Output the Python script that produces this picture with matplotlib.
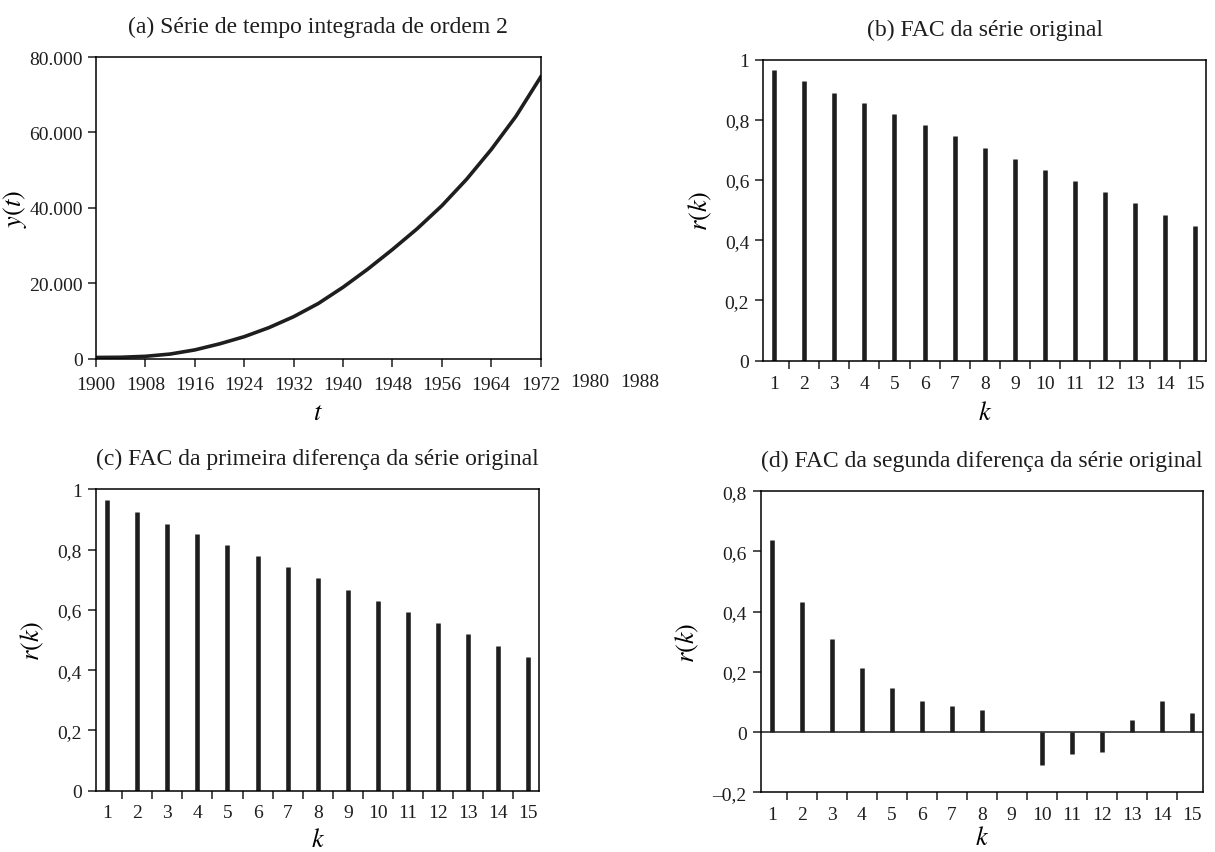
import matplotlib
matplotlib.use("Agg")
import matplotlib.pyplot as plt
import numpy as np

plt.rcParams["font.family"] = ["Liberation Serif", "DejaVu Serif"]
plt.rcParams["mathtext.fontset"] = "stix"
plt.rcParams["axes.linewidth"] = 1.1
plt.rcParams["text.color"] = "#1e1e1e"
plt.rcParams["xtick.color"] = "#1e1e1e"
plt.rcParams["ytick.color"] = "#1e1e1e"

# (a) integrated series, sampled every 4 years
years = [1900, 1904, 1908, 1912, 1916, 1920, 1924, 1928, 1932, 1936,
         1940, 1944, 1948, 1952, 1956, 1960, 1964, 1968, 1972]
y_t = [400, 450, 700, 1300, 2400, 4000, 5900, 8300, 11200, 14700,
       19000, 23800, 29000, 34500, 40600, 47600, 55500, 64300, 74700]
year_ticks = [1900, 1908, 1916, 1924, 1932, 1940, 1948, 1956, 1964, 1972, 1980, 1988]

# autocorrelations, lags 1..15
lags = list(range(1, 16))
acf_orig = [0.965, 0.930, 0.890, 0.856, 0.818, 0.784, 0.746, 0.707,
            0.671, 0.633, 0.598, 0.559, 0.523, 0.484, 0.447]
acf_diff1 = [0.965, 0.924, 0.885, 0.852, 0.815, 0.779, 0.741, 0.705,
             0.667, 0.631, 0.594, 0.556, 0.520, 0.481, 0.445]
acf_diff2 = [0.639, 0.433, 0.309, 0.214, 0.146, 0.104, 0.087, 0.074,
             0.0, -0.108, -0.073, -0.067, 0.040, 0.104, 0.062]

INK = "#1e1e1e"
TICK_FS = 14
TITLE_FS = 17
LABEL_FS = 19


def fmt_dec(v):
    s = f"{v:.1f}".replace(".", ",")
    if s.endswith(",0"):
        s = s[:-2]
    return s.replace("-", "\u2013")


def acf_panel(ax, values, title, ylim, yticks, kpad=7):
    ax.vlines(lags, 0, values, colors=INK, linewidth=3.3)
    ax.set_xlim(0.63, 15.37)
    ax.set_ylim(*ylim)
    ax.set_xticks(lags)
    ax.set_xticklabels([str(k) for k in lags], fontsize=TICK_FS)
    ax.set_xticks(np.arange(1.5, 15, 1.0), minor=True)
    ax.tick_params(axis="x", which="major", length=0, pad=10)
    ax.tick_params(axis="x", which="minor", length=6, width=1.1, direction="out")
    ax.set_yticks(yticks)
    ax.set_yticklabels([fmt_dec(v) for v in yticks], fontsize=TICK_FS)
    ax.tick_params(axis="y", length=6, width=1.1, direction="out", pad=4)
    ax.set_title(title, fontsize=TITLE_FS, pad=18)
    ax.set_xlabel("$k$", fontsize=LABEL_FS, labelpad=kpad)
    ax.set_ylabel("$r(k)$", fontsize=LABEL_FS, labelpad=8)


fig = plt.figure(figsize=(12.15, 8.53), dpi=100)

ax_a = fig.add_axes([0.079, 0.578, 0.366, 0.354])
ax_b = fig.add_axes([0.628, 0.576, 0.365, 0.353])
ax_c = fig.add_axes([0.079, 0.072, 0.365, 0.353])
ax_d = fig.add_axes([0.626, 0.070, 0.364, 0.353])

# (a) the level series
ax_a.plot(years, y_t, color=INK, linewidth=2.6, solid_joinstyle="round")
ax_a.set_xlim(1900, 1972)
ax_a.set_ylim(0, 80000)
ax_a.set_xticks(year_ticks[:10])
ax_a.set_xticklabels([str(y) for y in year_ticks[:10]], fontsize=TICK_FS)
for yr in year_ticks[10:]:
    ax_a.annotate(str(yr), xy=(yr, 0), xycoords=("data", "axes fraction"),
                  xytext=(0, -10), textcoords="offset points",
                  ha="center", va="top", fontsize=TICK_FS, annotation_clip=False)
yt = [0, 20000, 40000, 60000, 80000]
ax_a.set_yticks(yt)
ax_a.set_yticklabels([f"{v:,}".replace(",", ".") for v in yt], fontsize=TICK_FS)
ax_a.tick_params(axis="both", length=6, width=1.1, direction="out")
ax_a.tick_params(axis="x", pad=6)
ax_a.set_title("(a) Série de tempo integrada de ordem 2", fontsize=TITLE_FS, pad=18)
ax_a.set_xlabel("$t$", fontsize=LABEL_FS, labelpad=7)
ax_a.set_ylabel("$y(t)$", fontsize=LABEL_FS, labelpad=0)

acf_panel(ax_b, acf_orig, "(b) FAC da série original",
          (0, 1), [0, 0.2, 0.4, 0.6, 0.8, 1.0])
acf_panel(ax_c, acf_diff1, "(c) FAC da primeira diferença da série original",
          (0, 1), [0, 0.2, 0.4, 0.6, 0.8, 1.0], kpad=5)
acf_panel(ax_d, acf_diff2, "(d) FAC da segunda diferença da série original",
          (-0.2, 0.8), [-0.2, 0, 0.2, 0.4, 0.6, 0.8], kpad=2)
ax_d.axhline(0, color=INK, linewidth=1.1)

fig.savefig("out.png", dpi=100, facecolor="white")
